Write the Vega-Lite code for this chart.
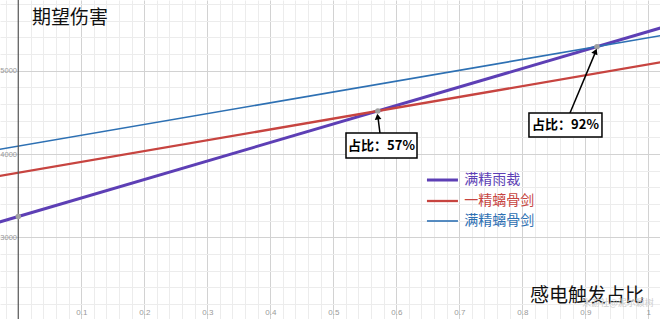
{
  "$schema": "https://vega.github.io/schema/vega-lite/v6.json",
  "width": 660,
  "height": 319,
  "padding": 0,
  "autosize": {"type": "none"},
  "config": {
    "view": {"stroke": null},
    "font": "Noto Sans CJK SC",
    "axis": {"title": null, "ticks": false, "domain": false}
  },
  "datasets": {
    "lines": [
      {"series": "满精雨裁", "x": -0.05, "y": 3139},
      {"series": "满精雨裁", "x": 1.05, "y": 5581},
      {"series": "一精螭骨剑", "x": -0.05, "y": 3710},
      {"series": "一精螭骨剑", "x": 1.05, "y": 5140},
      {"series": "满精螭骨剑", "x": -0.05, "y": 4030},
      {"series": "满精螭骨剑", "x": 1.05, "y": 5460}
    ],
    "pts": [
      {"x": 0, "y": 3250},
      {"x": 0.5707, "y": 4517},
      {"x": 0.9185, "y": 5289}
    ],
    "arrows": [
      {"x": 0.5741, "y": 4252, "x2": 0.5706, "y2": 4460, "hx": 0.5705, "hy": 4450, "angle": 351.5},
      {"x": 0.8757, "y": 4492, "x2": 0.916, "y2": 5220, "hx": 0.9163, "hy": 5232, "angle": 23.3}
    ],
    "boxes": [
      {"x": 0.5202, "x2": 0.6329, "y": 4252, "y2": 3952, "tx": 0.5765, "ty": 4102, "label": "占比：57%"},
      {"x": 0.8106, "x2": 0.9265, "y": 4492, "y2": 4204, "tx": 0.8686, "ty": 4348, "label": "占比：92%"}
    ],
    "legend": [
      {"series": "满精雨裁", "x": 0.6487, "x2": 0.6979, "tx": 0.708, "y": 3688},
      {"series": "一精螭骨剑", "x": 0.6487, "x2": 0.6979, "tx": 0.708, "y": 3436},
      {"series": "满精螭骨剑", "x": 0.6487, "x2": 0.6979, "tx": 0.708, "y": 3196}
    ],
    "titles": [
      {"x": 0.082, "y": 5632, "text": "期望伤害"},
      {"x": 0.9027, "y": 2296, "text": "感电触发占比"}
    ],
    "mark": [
      {"x": 0.952, "y": 2212, "text": "米游社@泥尔颖树"}
    ]
  },
  "layer": [
    {
      "data": {"name": "lines"},
      "mark": {"type": "line", "clip": true},
      "encoding": {
        "x": {
          "field": "x", "type": "quantitative",
          "scale": {"domain": [-0.029, 1.0186], "nice": false, "zero": false},
          "axis": {
            "labels": false, "grid": true, "gridColor": "#ececec", "gridWidth": 1,
            "values": [-0.02, 0.02, 0.04, 0.06, 0.08, 0.12, 0.14, 0.16, 0.18, 0.22, 0.24, 0.26, 0.28, 0.32, 0.34, 0.36, 0.38, 0.42, 0.44, 0.46, 0.48, 0.52, 0.54, 0.56, 0.58, 0.62, 0.64, 0.66, 0.68, 0.72, 0.74, 0.76, 0.78, 0.82, 0.84, 0.86, 0.88, 0.92, 0.94, 0.96, 0.98]
          }
        },
        "y": {
          "field": "y", "type": "quantitative",
          "scale": {"domain": [2019.6, 5848.7], "nice": false, "zero": false},
          "axis": {
            "labels": false, "grid": true, "gridColor": "#ececec", "gridWidth": 1,
            "values": [2200, 2400, 2600, 2800, 3200, 3400, 3600, 3800, 4200, 4400, 4600, 4800, 5200, 5400, 5600, 5800]
          }
        },
        "color": {
          "field": "series", "type": "nominal", "legend": null,
          "scale": {"domain": ["满精雨裁", "一精螭骨剑", "满精螭骨剑"], "range": ["#5d3fb5", "#c74440", "#2d70b3"]}
        },
        "strokeWidth": {
          "field": "series", "type": "nominal", "legend": null,
          "scale": {"domain": ["满精雨裁", "一精螭骨剑", "满精螭骨剑"], "range": [3, 1.6, 1.6]}
        },
        "order": {"field": "series", "sort": "ascending"}
      }
    },
    {
      "data": {"values": [{"x": 0}]},
      "mark": {"type": "rule", "color": "#555555", "strokeWidth": 1.2},
      "encoding": {
        "x": {
          "field": "x", "type": "quantitative",
          "axis": {
            "grid": true, "gridColor": "#d2d2d2", "gridWidth": 1,
            "values": [0.1, 0.2, 0.3, 0.4, 0.5, 0.6, 0.7, 0.8, 0.9, 1],
            "format": "~g", "orient": "bottom", "offset": -13, "labelPadding": 2,
            "labelFont": "Liberation Sans", "labelFontSize": 8, "labelColor": "#9a9a9a",
            "labelOverlap": false, "labelFlush": false, "labelBound": false
          }
        }
      }
    },
    {
      "data": {"name": "pts"},
      "mark": {"type": "circle", "color": "#a0a0a0", "opacity": 1, "size": 30},
      "encoding": {
        "x": {"field": "x", "type": "quantitative", "axis": null},
        "y": {
          "field": "y", "type": "quantitative",
          "axis": {
            "grid": true, "gridColor": "#d2d2d2", "gridWidth": 1,
            "values": [3000, 4000, 5000], "format": "d",
            "orient": "left", "offset": -18, "labelPadding": 1.5,
            "labelFont": "Liberation Sans", "labelFontSize": 7.5, "labelColor": "#9a9a9a",
            "labelOverlap": false, "labelFlush": false, "labelBound": false
          }
        }
      }
    },
    {
      "data": {"name": "arrows"},
      "mark": {"type": "rule", "color": "#000000", "strokeWidth": 1.5},
      "encoding": {
        "x": {"field": "x", "type": "quantitative", "axis": null},
        "y": {"field": "y", "type": "quantitative", "axis": null},
        "x2": {"field": "x2"},
        "y2": {"field": "y2"}
      }
    },
    {
      "data": {"name": "arrows"},
      "mark": {"type": "point", "shape": "triangle-up", "filled": true, "color": "#000000", "opacity": 1, "size": 45},
      "encoding": {
        "x": {"field": "hx", "type": "quantitative", "axis": null},
        "y": {"field": "hy", "type": "quantitative", "axis": null},
        "angle": {"field": "angle", "type": "quantitative", "scale": null}
      }
    },
    {
      "data": {"name": "boxes"},
      "mark": {"type": "rect", "fill": "#ffffff", "stroke": "#000000", "strokeWidth": 1.5},
      "encoding": {
        "x": {"field": "x", "type": "quantitative", "axis": null},
        "x2": {"field": "x2"},
        "y": {"field": "y", "type": "quantitative", "axis": null},
        "y2": {"field": "y2"}
      }
    },
    {
      "data": {"name": "boxes"},
      "mark": {"type": "text", "fontSize": 13, "fontWeight": "bold", "color": "#000000", "align": "center", "baseline": "middle"},
      "encoding": {
        "x": {"field": "tx", "type": "quantitative", "axis": null},
        "y": {"field": "ty", "type": "quantitative", "axis": null},
        "text": {"field": "label"}
      }
    },
    {
      "data": {"name": "legend"},
      "mark": {"type": "rule"},
      "encoding": {
        "x": {"field": "x", "type": "quantitative", "axis": null},
        "x2": {"field": "x2"},
        "y": {"field": "y", "type": "quantitative", "axis": null},
        "color": {"field": "series", "type": "nominal", "legend": null},
        "strokeWidth": {"field": "series", "type": "nominal", "legend": null}
      }
    },
    {
      "data": {"name": "legend"},
      "mark": {"type": "text", "fontSize": 14, "align": "left", "baseline": "middle"},
      "encoding": {
        "x": {"field": "tx", "type": "quantitative", "axis": null},
        "y": {"field": "y", "type": "quantitative", "axis": null},
        "color": {"field": "series", "type": "nominal", "legend": null},
        "text": {"field": "series"}
      }
    },
    {
      "data": {"name": "titles"},
      "mark": {"type": "text", "fontSize": 19, "align": "center", "baseline": "middle", "color": "#111111"},
      "encoding": {
        "x": {"field": "x", "type": "quantitative", "axis": null},
        "y": {"field": "y", "type": "quantitative", "axis": null},
        "text": {"field": "text"}
      }
    },
    {
      "data": {"name": "mark"},
      "mark": {"type": "text", "fontSize": 9, "align": "center", "baseline": "middle", "color": "#cccccc"},
      "encoding": {
        "x": {"field": "x", "type": "quantitative", "axis": null},
        "y": {"field": "y", "type": "quantitative", "axis": null},
        "text": {"field": "text"}
      }
    }
  ],
  "resolve": {"axis": {"x": "independent", "y": "independent"}}
}
